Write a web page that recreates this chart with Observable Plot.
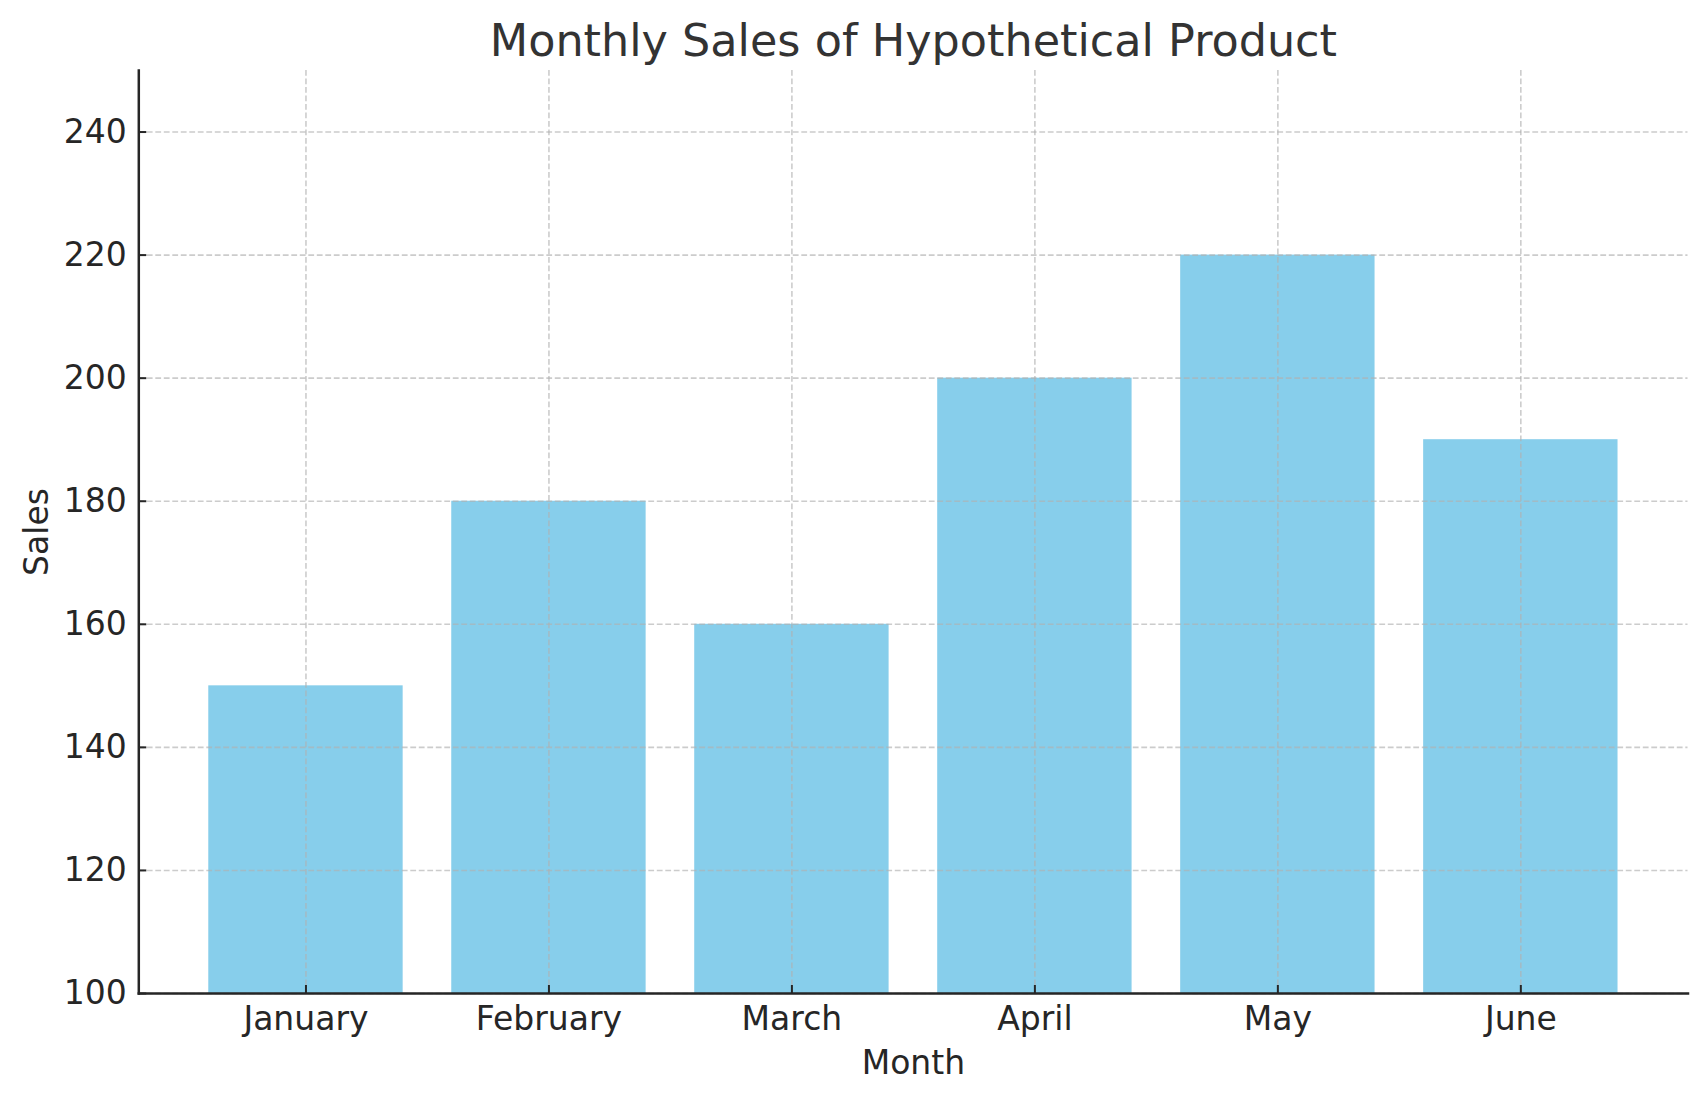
<!DOCTYPE html>
<html>
<head>
<meta charset="utf-8">
<script src="https://cdn.jsdelivr.net/npm/d3@7"></script>
<script src="https://cdn.jsdelivr.net/npm/@observablehq/plot@0.6"></script>
<style>
  html, body { margin: 0; padding: 0; background: #fff; }
  svg { display: block; }
</style>
</head>
<body>
<div id="chart"></div>
<script>
const months = ["January", "February", "March", "April", "May", "June"];
const sales = [150, 180, 160, 200, 220, 190];
const yTicks = [100, 120, 140, 160, 180, 200, 220, 240];
const titleText = "Monthly Sales of Hypothetical Product";
const xLabel = "Month";
const yLabel = "Sales";

const data = months.map((m, i) => ({month: m, sales: sales[i]}));

const W = 1707, H = 1101;
const mL = 138.3, mR = 19.5, mT = 70, mB = 108;
const frameW = W - mL - mR, frameH = H - mT - mB;
const tickLen = 8;

const gridStyle = {stroke: "#b0b0b0", strokeOpacity: 0.65, strokeWidth: 1.6, strokeDasharray: "5.8,2.7"};

const chart = Plot.plot({
  width: W,
  height: H,
  marginLeft: mL,
  marginRight: mR,
  marginTop: mT,
  marginBottom: mB,
  style: {fontFamily: "DejaVu Sans", fontSize: "33px", color: "#262626", background: "#fff"},
  x: {domain: months, paddingInner: 0.2, paddingOuter: 0.288, round: false, label: null},
  y: {domain: [100, 250], label: null},
  marks: [
    Plot.barY(data, {x: "month", y1: 100, y2: "sales", fill: "#87CEEB"}),
    Plot.gridX({...gridStyle}),
    Plot.gridY(yTicks, {...gridStyle}),
    // inward ticks
    Plot.tickX(months, {x: d => d, insetTop: frameH - tickLen, stroke: "#262626", strokeWidth: 2}),
    Plot.tickY(yTicks, {y: d => d, insetRight: frameW - tickLen, stroke: "#262626", strokeWidth: 2}),
    Plot.frame({anchor: "left", stroke: "#262626", strokeWidth: 2.5}),
    Plot.frame({anchor: "bottom", stroke: "#262626", strokeWidth: 2.5}),
    Plot.axisX({tickSize: 0, tickPadding: 13, fontSize: 33, fill: "#262626", label: null}),
    Plot.axisY(yTicks, {tickSize: 0, tickPadding: 12, fontSize: 33, fill: "#262626", label: null}),
    Plot.text([titleText], {text: d => d, frameAnchor: "top", lineAnchor: "middle", textAnchor: "middle", dy: -29, fontSize: 44.5, fill: "#333333"}),
    Plot.text([xLabel], {text: d => d, frameAnchor: "bottom", lineAnchor: "middle", textAnchor: "middle", dy: 70, fontSize: 33, fill: "#262626"}),
    Plot.text([yLabel], {text: d => d, frameAnchor: "left", lineAnchor: "middle", textAnchor: "middle", dx: -101, rotate: -90, fontSize: 33, fill: "#262626"})
  ]
});

document.getElementById("chart").appendChild(chart);
</script>
</body>
</html>
